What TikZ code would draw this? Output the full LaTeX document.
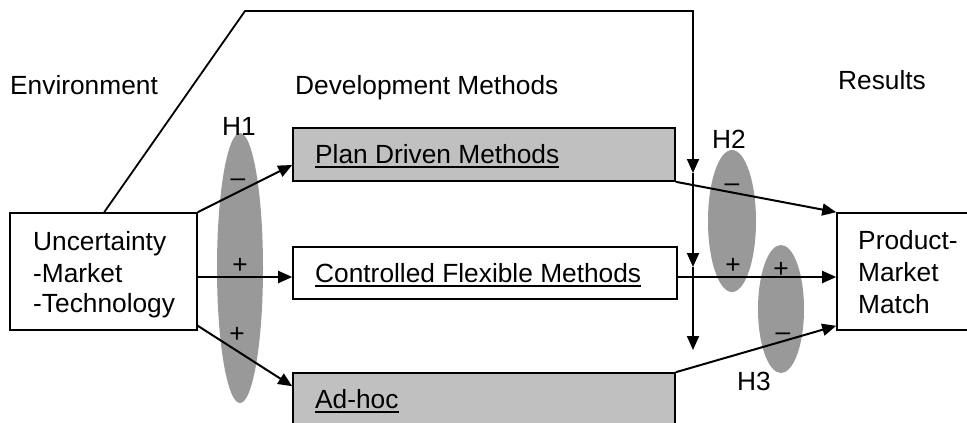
\documentclass[tikz,border=0pt]{standalone}
\usepackage{fontspec}
\setmainfont{Liberation Sans}
\usetikzlibrary{arrows.meta,shapes.geometric,calc}

\definecolor{ellgray}{RGB}{153,153,153}
\definecolor{boxgray}{RGB}{192,192,192}

% underline drawn as a fixed rule just under the baseline
\newcommand\ulx[1]{\setbox0\hbox{#1}\rlap{\vrule width\wd0 height -3.4pt depth 5.4pt}\box0}

\tikzset{
  txt/.style={inner sep=0pt, anchor=base west, font=\fontsize{26.3}{31}\selectfont},
  sgn/.style={inner sep=0pt, anchor=base, font=\fontsize{26.3}{31}\selectfont},
  box/.style={draw, line width=1.6pt, rectangle, inner sep=0pt},
  graybox/.style={box, fill=boxgray},
  hyp/.style={ellipse, fill=ellgray, draw=none, inner sep=0pt},
  conn/.style={line width=2pt},
  arr/.style={conn, -{Triangle[length=14pt,width=12pt]}},
}

\begin{document}
\begin{tikzpicture}[x=1pt, y=-1pt]
  \clip (0,0) rectangle (967,423);
  \fill[white] (0,0) rectangle (967,423);

  % hypothesis ellipses
  \node[hyp, minimum width=46pt, minimum height=270pt] (h1e) at (240,268) {};
  \node[hyp, minimum width=48pt, minimum height=142pt] (h2e) at (732,221) {};
  \node[hyp, minimum width=46pt, minimum height=128pt] (h3e) at (781,309) {};

  % boxes
  \node[box, minimum width=187pt, minimum height=117pt] (unc) at (103.5,271.5) {};
  \node[graybox, minimum width=382pt, minimum height=53pt] (plan) at (484,154.5) {};
  \node[box, minimum width=384pt, minimum height=52pt] (ctrl) at (485,273) {};
  \node[graybox, minimum width=382pt, minimum height=53pt] (adhoc) at (484,399.5) {};
  \node[box, minimum width=140pt, minimum height=117pt] (pmm) at (907,271.5) {};

  % column headings
  \node[txt] (henv) at (10,94) {Environment};
  \node[txt] (hdev) at (295,94) {Development Methods};
  \node[txt] (hres) at (838,89) {Results};

  % box texts
  \node[txt] (u1) at (33,250) {Uncertainty};
  \node[txt] (u2) at (33,282) {-Market};
  \node[txt] (u3) at (33,312) {-Technology};
  \node[txt] (tplan) at (315,163) {\ulx{Plan Driven Methods}};
  \node[txt] (tctrl) at (315,282) {\ulx{Controlled Flexible Methods}};
  \node[txt] (tadhoc) at (315,408) {\ulx{Ad-hoc}};
  \node[txt] (p1) at (858,249) {Product-};
  \node[txt] (p2) at (858,281) {Market};
  \node[txt] (p3) at (858,313) {Match};

  % uncertainty to methods
  \draw[arr] (unc.north east) -- ([yshift=-10.5pt]plan.west);
  \draw[arr] ([yshift=-5.5pt]unc.east) -- ([yshift=-5.5pt]unc.east -| ctrl.west);
  \draw[arr] ([yshift=5pt]unc.south east) -- ([yshift=-14pt]adhoc.north west);

  % methods to product-market match
  \draw[arr] (plan.south east) -- (pmm.north west);
  \draw[arr] ([yshift=-4pt]ctrl.east) -- ([yshift=-4pt]ctrl.east -| pmm.west);
  \draw[arr] (adhoc.north east) -- ([yshift=5pt]pmm.south west);

  % moderating effect of uncertainty
  \coordinate (m0) at ([xshift=95pt]unc.north west);
  \coordinate (m1) at (245,11);
  \coordinate (m2) at (693,11);
  \coordinate (m3) at (693,173);
  \coordinate (m4) at (693,267);
  \coordinate (m5) at (693,350);
  \draw[arr, line width=1.8pt] (m0) -- (m1) -- (m2) -- (m3);
  \draw[arr] (m3) -- (m4);
  \draw[arr] (m4) -- (m5);

  % hypothesis labels and signs
  \node[txt] (lh1) at (222,135) {H1};
  \node[txt] (lh2) at (712,148) {H2};
  \node[txt] (lh3) at (737,390) {H3};
  \node[sgn] (s11) at (238,186) {–};
  \node[sgn] (s12) at (240,273) {+};
  \node[sgn] (s13) at (237,342) {+};
  \node[sgn] (s21) at (732,191) {–};
  \node[sgn] (s22) at (733,273) {+};
  \node[sgn] (s31) at (781,277) {+};
  \node[sgn] (s32) at (783,340) {–};
\end{tikzpicture}
\end{document}
